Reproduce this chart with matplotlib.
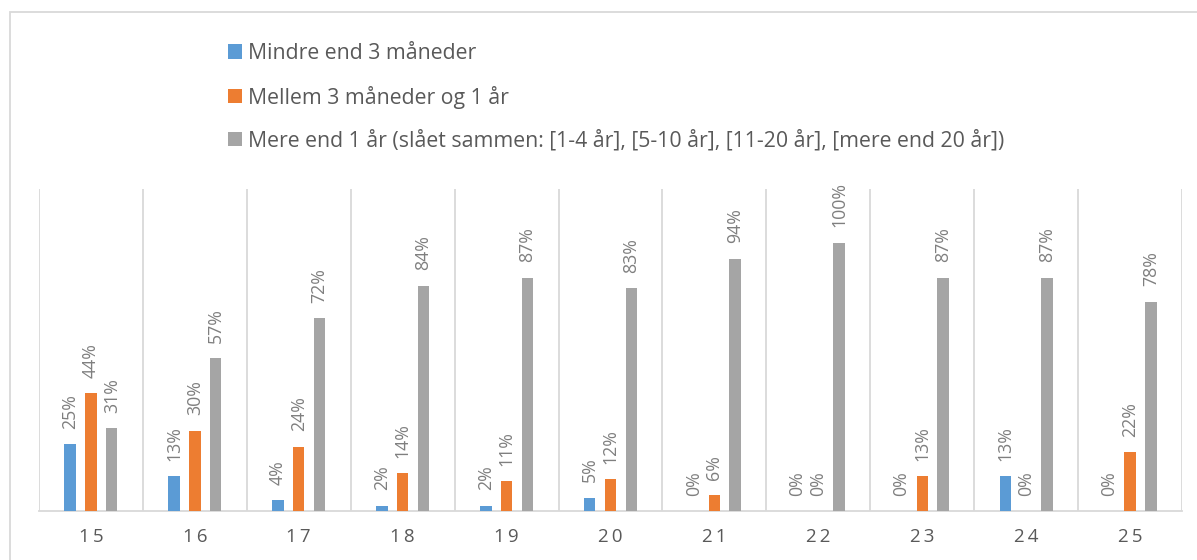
import matplotlib
matplotlib.use("Agg")
import matplotlib.pyplot as plt
import numpy as np
from matplotlib.patches import Rectangle, Patch

categories = ["15", "16", "17", "18", "19", "20", "21", "22", "23", "24", "25"]
series_names = [
    "Mindre end 3 måneder",
    "Mellem 3 måneder og 1 år",
    "Mere end 1 år (slået sammen: [1-4 år], [5-10 år], [11-20 år], [mere end 20 år])",
]
mindre_3m = [25, 13, 4, 2, 2, 5, 0, 0, 0, 13, 0]
mellem_3m_1aar = [44, 30, 24, 14, 11, 12, 6, 0, 13, 0, 22]
mere_1aar = [31, 57, 72, 84, 87, 83, 94, 100, 87, 87, 78]
colors = ["#5B9BD5", "#ED7D31", "#A5A5A5"]

plt.rcParams["font.family"] = ["Open Sans", "DejaVu Sans"]

fig = plt.figure(figsize=(11.97, 5.6), dpi=100)
ax = fig.add_axes([39 / 1197, 49 / 560, (1182 - 39) / 1197, (511 - 189) / 560])

x = np.arange(len(categories))
width = 0.11
offsets = [-0.2, 0.0, 0.2]
all_series = [mindre_3m, mellem_3m_1aar, mere_1aar]
for vals, off, col, name in zip(all_series, offsets, colors, series_names):
    ax.bar(x + off, vals, width=width, color=col, label=name, zorder=3)
    for xi, v in zip(x + off, vals):
        ax.annotate(f"{v}%", (xi, v), xytext=(0, 11), textcoords="offset points",
                    rotation=90, ha="center", va="bottom", fontsize=12.8,
                    color="#7F7F7F", zorder=4)

ax.set_xlim(-0.5, len(categories) - 0.5)
ax.set_ylim(0, 120)
ax.set_yticks([])
ax.set_xticks(x)
ax.set_xticklabels(["\u2009".join(c) for c in categories], fontsize=13.5,
                   color="#595959")
ax.tick_params(axis="x", length=0, pad=12)
ax.set_xticks(np.arange(-0.5, len(categories), 1), minor=True)
ax.tick_params(axis="x", which="minor", length=0)
ax.grid(axis="x", which="minor", color="#D9D9D9", linewidth=1.3, zorder=0)
ax.grid(axis="x", which="major", visible=False)
for s in ["top", "left", "right"]:
    ax.spines[s].set_visible(False)
ax.spines["bottom"].set_color("#D9D9D9")
ax.spines["bottom"].set_linewidth(1.3)

# outer chart border
fig.patches.append(Rectangle((10 / 1197, -0.1), 1.2, (560 - 12) / 560 + 0.1,
                             transform=fig.transFigure, fill=False,
                             edgecolor="#D9D9D9", linewidth=1.3))

handles = [Patch(facecolor=c) for c in colors]
fig.legend(handles, series_names, loc="upper left",
           bbox_to_anchor=(228 / 1197, 1 - 43 / 560), frameon=False,
           fontsize=15.3, labelcolor="#595959", handlelength=0.65,
           handleheight=0.65, handletextpad=0.3, labelspacing=1.02,
           borderaxespad=0, borderpad=0)

fig.savefig("out.png", dpi=100)
